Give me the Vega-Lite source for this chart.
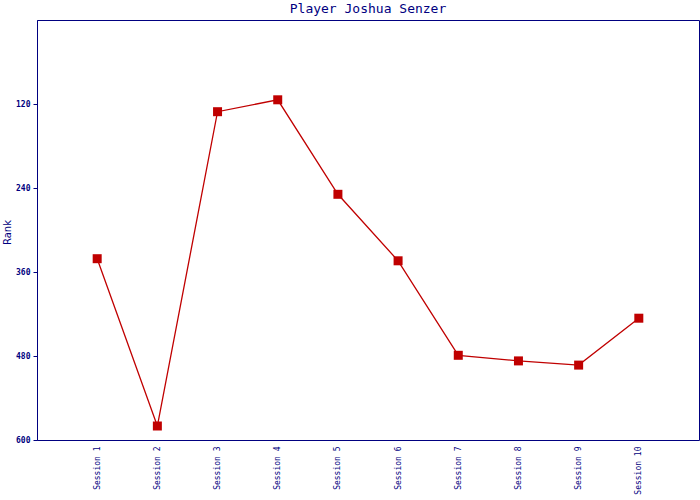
{
  "$schema": "https://vega.github.io/schema/vega-lite/v6.json",
  "autosize": "none",
  "width": 662,
  "height": 420,
  "padding": {"left": 37, "top": 20, "right": 1, "bottom": 60},
  "background": "white",
  "title": {"text": "Player Joshua Senzer", "font": "DejaVu Sans Mono", "fontSize": 13, "fontWeight": "normal", "color": "#000080", "offset": 4, "anchor": "middle"},
  "config": {
    "view": {"stroke": "#000080", "strokeWidth": 1},
    "axis": {"grid": false, "domainColor": "#000080", "tickColor": "#000080", "labelColor": "#000080", "titleColor": "#000080"}
  },
  "data": {"values": [
    {"session": "Session 1", "rank": 341},
    {"session": "Session 2", "rank": 580},
    {"session": "Session 3", "rank": 131},
    {"session": "Session 4", "rank": 114},
    {"session": "Session 5", "rank": 249},
    {"session": "Session 6", "rank": 344},
    {"session": "Session 7", "rank": 479},
    {"session": "Session 8", "rank": 487},
    {"session": "Session 9", "rank": 493},
    {"session": "Session 10", "rank": 426}
  ]},
  "encoding": {
    "x": {"field": "session", "type": "ordinal", "sort": null, "scale": {"type": "point", "padding": 1},
      "axis": {"title": null, "ticks": false, "domain": false, "labelAngle": -90, "labelAlign": "right", "labelBaseline": "middle", "labelFont": "DejaVu Sans Mono", "labelFontSize": 8, "labelPadding": 6}},
    "y": {"field": "rank", "type": "quantitative", "scale": {"domain": [0, 600], "reverse": true, "nice": false},
      "axis": {"title": "Rank", "values": [120, 240, 360, 480, 600], "tickSize": 4, "labelFont": "DejaVu Sans Mono", "labelFontSize": 8, "labelFontWeight": "bold", "labelPadding": 3, "titleFont": "DejaVu Sans", "titleFontSize": 10, "titleFontWeight": "normal", "titleX": -25, "titleY": 212, "titleBaseline": "bottom", "titleAlign": "center", "titleAngle": -90}}
  },
  "layer": [
    {"mark": {"type": "line", "color": "#c00000", "strokeWidth": 1.3}},
    {"mark": {"type": "square", "color": "#c00000", "opacity": 1, "filled": true, "size": 81}}
  ]
}
